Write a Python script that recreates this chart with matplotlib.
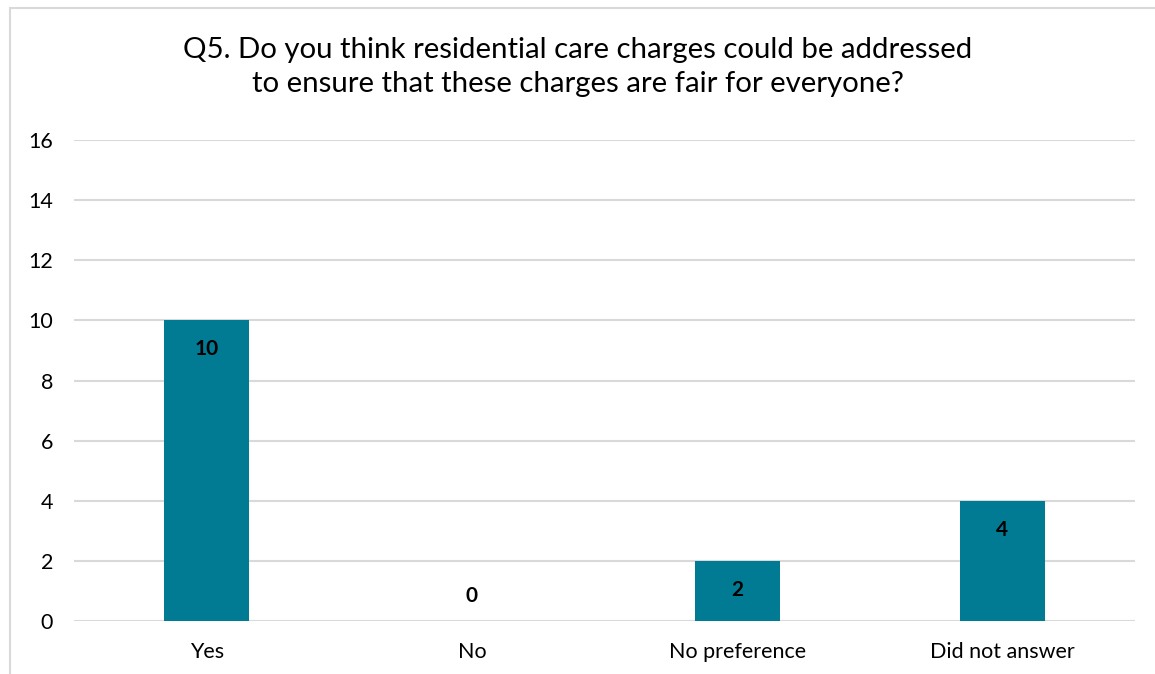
import matplotlib.pyplot as plt
from matplotlib.patches import Rectangle

# Données
categories = ["Yes", "No", "No preference", "Did not answer"]
reponses = [10, 0, 2, 4]
graduations = [0, 2, 4, 6, 8, 10, 12, 14, 16]
titre = ("Q5. Do you think residential care charges could be addressed\n"
         "to ensure that these charges are fair for everyone?")

plt.rcParams['font.family'] = ['Lato', 'DejaVu Sans']

fig = plt.figure(figsize=(11.55, 6.74), dpi=100)
ax = fig.add_axes([0.0641, 0.0786, 0.9186, 0.7137])

# cadre du graphique (coupé à droite et en bas)
fig.patches.append(Rectangle((10/1155, -0.05), 1.2, 1 - 8/674 + 0.05,
                             transform=fig.transFigure, fill=False,
                             edgecolor="#d9d9d9", lw=1.5))

x = range(len(categories))
barres = ax.bar(x, reponses, width=0.32, color="#017a93", zorder=3)

for b, v in zip(barres, reponses):
    cx = b.get_x() + b.get_width() / 2
    dy = -29 if v > 0 else 25
    ax.annotate(str(v), (cx, v), xytext=(0, dy), textcoords="offset pixels",
                ha="center", va="center", fontsize=15, fontweight="bold",
                color="black", zorder=4)

ax.set_xlim(-0.5, len(categories) - 0.5)
ax.set_ylim(0, 16)
ax.set_yticks(graduations)
ax.set_xticks(list(x))
ax.set_xticklabels(categories)
ax.tick_params(axis="both", length=0, labelsize=15.5, colors="#000000")
ax.tick_params(axis="y", pad=15)
ax.tick_params(axis="x", pad=15)
ax.grid(axis="y", color="#d9d9d9", lw=1.5, zorder=0)
for s in ax.spines.values():
    s.set_visible(False)

fig.text(0.5, 1 - 67/674, titre, ha="center", va="center",
         fontsize=21.2, linespacing=1.4)

plt.savefig("out.png", dpi=100)
